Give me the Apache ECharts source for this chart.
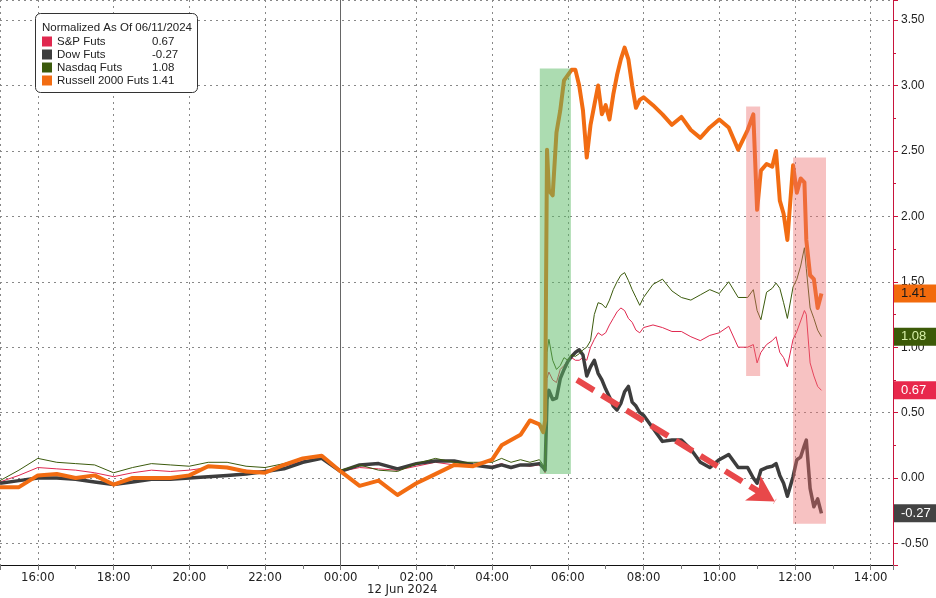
<!DOCTYPE html>
<html><head><meta charset="utf-8">
<script src="https://cdn.jsdelivr.net/npm/echarts@6/dist/echarts.min.js"></script>
<style>html,body{margin:0;padding:0;background:#fff}#c{width:936px;height:598px}</style>
</head><body><div id="c"></div>
<script>
// time in hours since 11 Jun 2024 00:00
const times = [15,15.5,16,16.5,17,17.5,18,18.5,19,19.5,20,20.5,21,21.5,22,22.5,23,23.5,24,24.5,25,25.5,26,26.5,27,27.5,
  28,28.25,28.5,28.75,29,29.25,29.35,29.4,29.45,29.5,
  29.6,29.7,29.8,29.9,30.0,30.1,30.2,30.3,30.4,30.5,30.6,30.7,30.8,30.9,31.0,31.1,31.2,31.3,31.4,31.5,31.6,31.7,31.8,31.9,32.0,
  32.25,32.5,32.75,33,33.25,33.5,33.75,34,34.25,34.5,34.75,34.9,
  35,35.1,35.25,35.4,35.5,35.6,35.7,35.8,35.95,36.05,36.15,36.25,36.3,36.4,36.5,36.6,36.7];
const spFuts = [-0.03,0.02,0.08,0.07,0.06,0.04,0.01,0.04,0.06,0.05,0.06,0.08,0.08,0.06,0.05,0.09,0.13,0.15,0.05,0.08,0.07,0.06,0.09,0.12,0.10,0.09,
  0.09,0.11,0.08,0.10,0.09,0.10,0.07,0.04,0.76,0.81,
  0.75,0.73,0.83,0.86,0.90,0.92,0.90,0.90,0.92,0.90,1.00,1.06,1.11,1.09,1.11,1.17,1.22,1.27,1.30,1.28,1.22,1.19,1.13,1.11,1.15,
  1.17,1.15,1.12,1.12,1.08,1.05,1.09,1.11,1.16,1.00,1.00,1.02,
  0.88,0.96,1.02,1.05,1.08,0.96,0.92,0.85,1.06,1.12,1.20,1.28,1.25,0.88,0.78,0.70,0.67];
const dowFuts = [-0.04,-0.02,0.00,0.00,-0.01,-0.03,-0.05,-0.03,-0.01,-0.01,0.00,0.01,0.02,0.03,0.05,0.07,0.12,0.15,0.05,0.10,0.11,0.07,0.11,0.13,0.13,0.10,
  0.08,0.10,0.08,0.10,0.10,0.11,0.08,0.06,0.60,0.67,
  0.60,0.61,0.76,0.83,0.89,0.93,0.96,0.98,0.94,0.78,0.85,0.90,0.80,0.75,0.68,0.62,0.55,0.52,0.57,0.66,0.70,0.58,0.55,0.50,0.48,
  0.38,0.28,0.29,0.29,0.22,0.12,0.08,0.14,0.18,0.08,0.08,0.00,
  -0.04,0.06,0.08,0.09,0.11,0.02,-0.04,-0.14,0.01,0.14,0.16,0.25,0.29,-0.08,-0.22,-0.16,-0.27];
const nasdaqFuts = [-0.02,0.06,0.15,0.12,0.11,0.10,0.04,0.08,0.11,0.10,0.09,0.12,0.12,0.09,0.08,0.11,0.15,0.17,0.06,0.10,0.06,0.05,0.11,0.15,0.12,0.12,
  0.12,0.15,0.12,0.14,0.12,0.14,0.10,0.06,0.96,1.06,
  0.90,0.83,0.86,0.92,0.90,0.94,0.93,0.95,0.98,1.00,1.05,1.25,1.34,1.33,1.30,1.36,1.44,1.50,1.55,1.57,1.51,1.44,1.38,1.32,1.38,
  1.48,1.52,1.43,1.38,1.36,1.40,1.44,1.41,1.50,1.38,1.38,1.44,
  1.28,1.21,1.42,1.45,1.49,1.45,1.34,1.22,1.46,1.52,1.62,1.76,1.60,1.30,1.22,1.13,1.08];
const russellFuts = [-0.07,-0.07,0.02,0.03,0.00,0.02,-0.05,0.00,0.00,0.00,0.02,0.09,0.08,0.05,0.04,0.10,0.15,0.17,0.05,-0.06,-0.02,-0.13,-0.04,0.03,0.10,0.09,
  0.14,0.25,0.29,0.33,0.44,0.41,0.35,0.44,2.51,2.20,
  2.16,2.64,2.81,3.04,3.08,3.12,3.12,3.00,2.81,2.45,2.70,2.85,3.00,2.78,2.85,2.74,2.93,3.08,3.20,3.29,3.20,3.00,2.83,2.89,2.91,
  2.85,2.78,2.70,2.76,2.66,2.60,2.68,2.74,2.68,2.51,2.66,2.78,
  2.05,2.35,2.40,2.38,2.50,2.12,2.02,1.82,2.39,2.18,2.29,2.26,1.82,1.55,1.52,1.30,1.41];
const seriesNames = ['S&P Futs','Dow Futs','Nasdaq Futs','Russell 2000 Futs'];
const lastValues = [0.67,-0.27,1.08,1.41];
const legendTitle = 'Normalized As Of 06/11/2024';
const dateLabel = '12 Jun 2024';
// shaded zones: [start hour, end hour, low value, high value]
const greenZones = [[29.26,30.08,0.03,3.13]];
const pinkZones = [[34.71,35.08,0.78,2.84],[35.95,36.82,-0.35,2.45]];
const arrowFrom = [30.24,0.75];
const arrowTo = [35.47,-0.18];
const midnight = 24;

const colors = ['#e0284f','#3d3d3d','#3b5a0c','#f26c12'];
const widths = [1,3.5,1,4];
const tagBg = ['#e8284c','#434343','#3c5a08','#f26a0c'];
const tagFg = ['#ffffff','#ffffff','#d8f0a8','#1a1a1a'];
const valueSets = [spFuts,dowFuts,nasdaqFuts,russellFuts];

const chart = echarts.init(document.getElementById('c'), null, {renderer:'canvas'});
const lastMap = {};
seriesNames.forEach((n,i)=>lastMap[n]=lastValues[i]);

function zoneSeries(data, fill){
  return {type:'custom', z:10, silent:true, data:data, encode:{x:[0,1], y:[2,3]},
    renderItem:(params, api)=>{
      const p0 = api.coord([api.value(0), api.value(3)]);
      const p1 = api.coord([api.value(1), api.value(2)]);
      return {type:'rect', shape:{x:p0[0], y:p0[1], width:p1[0]-p0[0], height:p1[1]-p0[1]}, style:{fill:fill}};
    }};
}

const lineSeries = seriesNames.map((name,i)=>({
  name:name, type:'line', showSymbol:false, symbol:'none', animation:false, z:2+i,
  data: times.map((t,k)=>[t, valueSets[i][k]]),
  lineStyle:{color:colors[i], width:widths[i], join:'round'},
  itemStyle:{color:colors[i]}
}));

const tagSeries = seriesNames.map((name,i)=>({
  type:'line', data:[], silent:true, z:20,
  markLine:{silent:true, symbol:'none', animation:false, z:20,
    lineStyle:{width:1, color:'rgba(0,0,0,0)', type:'solid'},
    label:{show:true, position:'end', distance:1, formatter:()=>lastValues[i].toFixed(2),
      backgroundColor:tagBg[i], color:tagFg[i], padding:[2,12,2,7], fontSize:13, fontFamily:'Liberation Sans', lineHeight:14},
    data:[{yAxis:lastValues[i]}]}
}));

const option = {
  animation:false,
  backgroundColor:'#ffffff',
  grid:{left:0, right:43, top:0, bottom:33, outerBoundsMode:'none', containLabel:false},
  xAxis:{type:'value', min:15, max:38.59, splitNumber:12, minInterval:2, maxInterval:2,
    axisLine:{show:true, onZero:false, lineStyle:{color:'#111', width:1}},
    axisTick:{show:true, length:5, lineStyle:{color:'#777'}},
    minorTick:{show:true, splitNumber:2, length:4, lineStyle:{color:'#777'}},
    axisLabel:{showMinLabel:false, showMaxLabel:false, color:'#222', fontSize:13, fontFamily:'Liberation Sans Narrow, DejaVu Sans Condensed, sans-serif', margin:6,
      formatter:v=>{const h=((Math.round(v)%24)+24)%24; return String(h).padStart(2,'0')+':00';}},
    splitLine:{show:true, lineStyle:{color:'#888', type:[2,4], width:1}}
  },
  yAxis:{type:'value', position:'right', min:-0.665, max:3.654, splitNumber:8, minInterval:0.5, maxInterval:0.5,
    axisLine:{show:true, onZero:false, lineStyle:{color:'#c8143c', width:1}},
    axisTick:{show:true, length:5, lineStyle:{color:'#c8143c'}},
    minorTick:{show:true, splitNumber:2, length:3, lineStyle:{color:'#c8143c'}},
    axisLabel:{showMinLabel:false, showMaxLabel:false, color:'#222', fontSize:12, fontFamily:'Liberation Sans', margin:8,
      formatter:v=>v.toFixed(2)},
    splitLine:{show:true, lineStyle:{color:'#888', type:[2,4], width:1}}
  },
  legend:{data:seriesNames, orient:'vertical', left:42, top:35, itemWidth:10, itemHeight:10, itemGap:0, z:60,
    icon:'rect', selectedMode:false, padding:0,
    textStyle:{fontSize:11.5, fontFamily:'Liberation Sans', color:'#222', lineHeight:13,
      rich:{n:{width:95, fontSize:11.5, fontFamily:'Liberation Sans', color:'#222'}, v:{fontSize:11.5, fontFamily:'Liberation Sans', color:'#222'}}},
    formatter:name=>'{n|'+name+'}{v|'+lastMap[name].toFixed(2)+'}'
  },
  graphic:[
    {type:'rect', left:35, top:13, z:30, shape:{width:162, height:79, r:5}, style:{fill:'#ffffff', stroke:'#333', lineWidth:1}},
    {type:'text', left:42, top:22, z:31, style:{text:legendTitle, fill:'#222', font:'11.5px "Liberation Sans"'}},
    {type:'text', left:367, top:583, z:31, style:{text:dateLabel, fill:'#222', font:'13px "Liberation Sans Narrow", "DejaVu Sans Condensed", sans-serif'}}
  ],
  series:[
    ...lineSeries,
    zoneSeries(greenZones, 'rgba(90,185,100,0.5)'),
    zoneSeries(pinkZones, 'rgba(235,110,110,0.42)'),
    {type:'line', data:[], silent:true, z:12,
      markLine:{silent:true, animation:false, symbol:['none','arrow'], symbolSize:[22,26],
        lineStyle:{color:'#e8484a', width:6, type:[20,9], opacity:1},
        label:{show:false},
        data:[[{coord:arrowFrom},{coord:arrowTo}]]}},
    {type:'line', data:[], silent:true, z:1,
      markLine:{silent:true, animation:false, symbol:'none',
        lineStyle:{color:'#666', width:1, type:'solid'}, label:{show:false},
        data:[{xAxis:midnight}]}},
    ...tagSeries
  ]
};
chart.setOption(option);
</script></body></html>
